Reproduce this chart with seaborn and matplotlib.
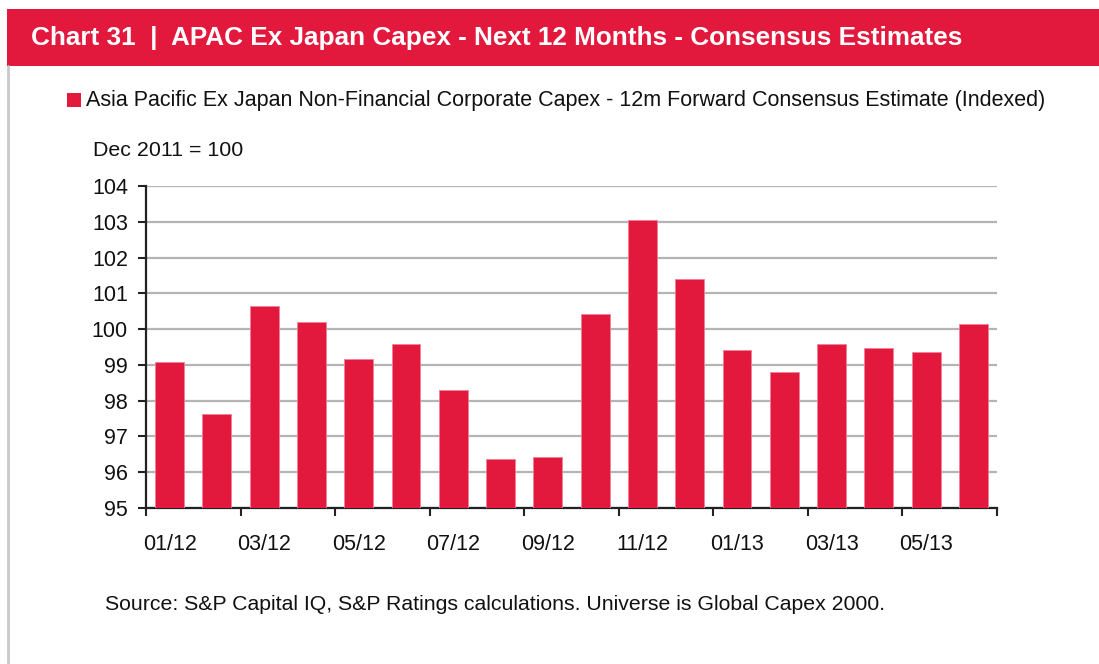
import matplotlib
matplotlib.use("Agg")
import matplotlib.pyplot as plt
import seaborn as sns
import pandas as pd
from matplotlib.patches import Rectangle
from matplotlib.lines import Line2D

# ---- data ----
months = ["01/12", "02/12", "03/12", "04/12", "05/12", "06/12", "07/12", "08/12", "09/12",
          "10/12", "11/12", "12/12", "01/13", "02/13", "03/13", "04/13", "05/13", "06/13"]
capex_index = [99.09, 97.64, 100.65, 100.21, 99.16, 99.59, 98.31, 96.36, 96.43,
               100.43, 103.06, 101.39, 99.43, 98.81, 99.59, 99.48, 99.37, 100.15]
tick_labels = ["01/12", "03/12", "05/12", "07/12", "09/12", "11/12", "01/13", "03/13", "05/13"]
y_ticks = [95, 96, 97, 98, 99, 100, 101, 102, 103, 104]

title = "Chart 31  |  APAC Ex Japan Capex - Next 12 Months - Consensus Estimates"
series_name = "Asia Pacific Ex Japan Non-Financial Corporate Capex - 12m Forward Consensus Estimate (Indexed)"
unit_note = "Dec 2011 = 100"
source = "Source: S&P Capital IQ, S&P Ratings calculations. Universe is Global Capex 2000."

RED = "#E2183D"
W, H = 1099, 664

sns.set_theme(style="white")
plt.rcParams["font.family"] = ["Liberation Sans", "DejaVu Sans"]

fig = plt.figure(figsize=(W / 100, H / 100), dpi=100)

def fx(px):
    return px / W

def fy(py):
    return 1 - py / H

# header band and left border
fig.patches.append(Rectangle((fx(7), fy(66)), 1 - fx(7), (66 - 9) / H,
                             transform=fig.transFigure, facecolor=RED, edgecolor="none", zorder=0))
fig.lines.append(Line2D([fx(7.5), fx(7.5)], [fy(66), 0], transform=fig.transFigure,
                        color="#C8C8C8", lw=2))
fig.text(fx(31), fy(37.5), title, color="white", fontsize=18.8, fontweight="bold",
         va="center", ha="left")

# legend
fig.patches.append(Rectangle((fx(67), fy(107)), 14 / W, 14 / H, transform=fig.transFigure,
                             facecolor=RED, edgecolor="none"))
fig.text(fx(86), fy(100.5), series_name, fontsize=15.5, va="center", ha="left", color="#111111")
fig.text(fx(93), fy(150), unit_note, fontsize=15.4, va="center", ha="left", color="#111111")
fig.text(fx(105), fy(605), source, fontsize=15.3, va="center", ha="left", color="#111111")

# axes
ax = fig.add_axes([fx(146), fy(508), (997 - 146) / W, (508 - 186) / H])
df = pd.DataFrame({"month": months, "value": capex_index})
sns.barplot(data=df, x="month", y="value", color=RED, saturation=1, width=0.61, ax=ax,
            edgecolor="#F08098", linewidth=0.6, zorder=3)

ax.set_ylim(95, 104)
ax.set_xlim(-0.5, len(months) - 0.5)
ax.set_yticks(y_ticks)
ax.set_yticklabels([str(v) for v in y_ticks], fontsize=15.5, color="#111111")
ax.yaxis.grid(True, color="#B4B4B4", lw=1.6, zorder=0)
ax.xaxis.grid(False)
ax.set_axisbelow(True)

bounds = [i - 0.5 for i in range(0, len(months) + 1, 2)]
ax.set_xticks(bounds)
ax.set_xticklabels([""] * len(bounds))
ax.set_xticks(list(range(0, len(months), 2)), minor=True)
ax.set_xticklabels(tick_labels, minor=True, fontsize=15.5, color="#111111")
ax.tick_params(axis="x", which="major", direction="out", length=6, width=1.5, color="#222222", bottom=True)
ax.tick_params(axis="x", which="minor", length=0, pad=19, bottom=True)
ax.tick_params(axis="y", which="major", direction="out", length=6, width=1.5, color="#222222", left=True, pad=7)

ax.set_xlabel("")
ax.set_ylabel("")
for s in ["top", "right"]:
    ax.spines[s].set_visible(False)
for s in ["left", "bottom"]:
    ax.spines[s].set_color("#222222")
    ax.spines[s].set_linewidth(1.6)

fig.savefig("out.png", dpi=100)
